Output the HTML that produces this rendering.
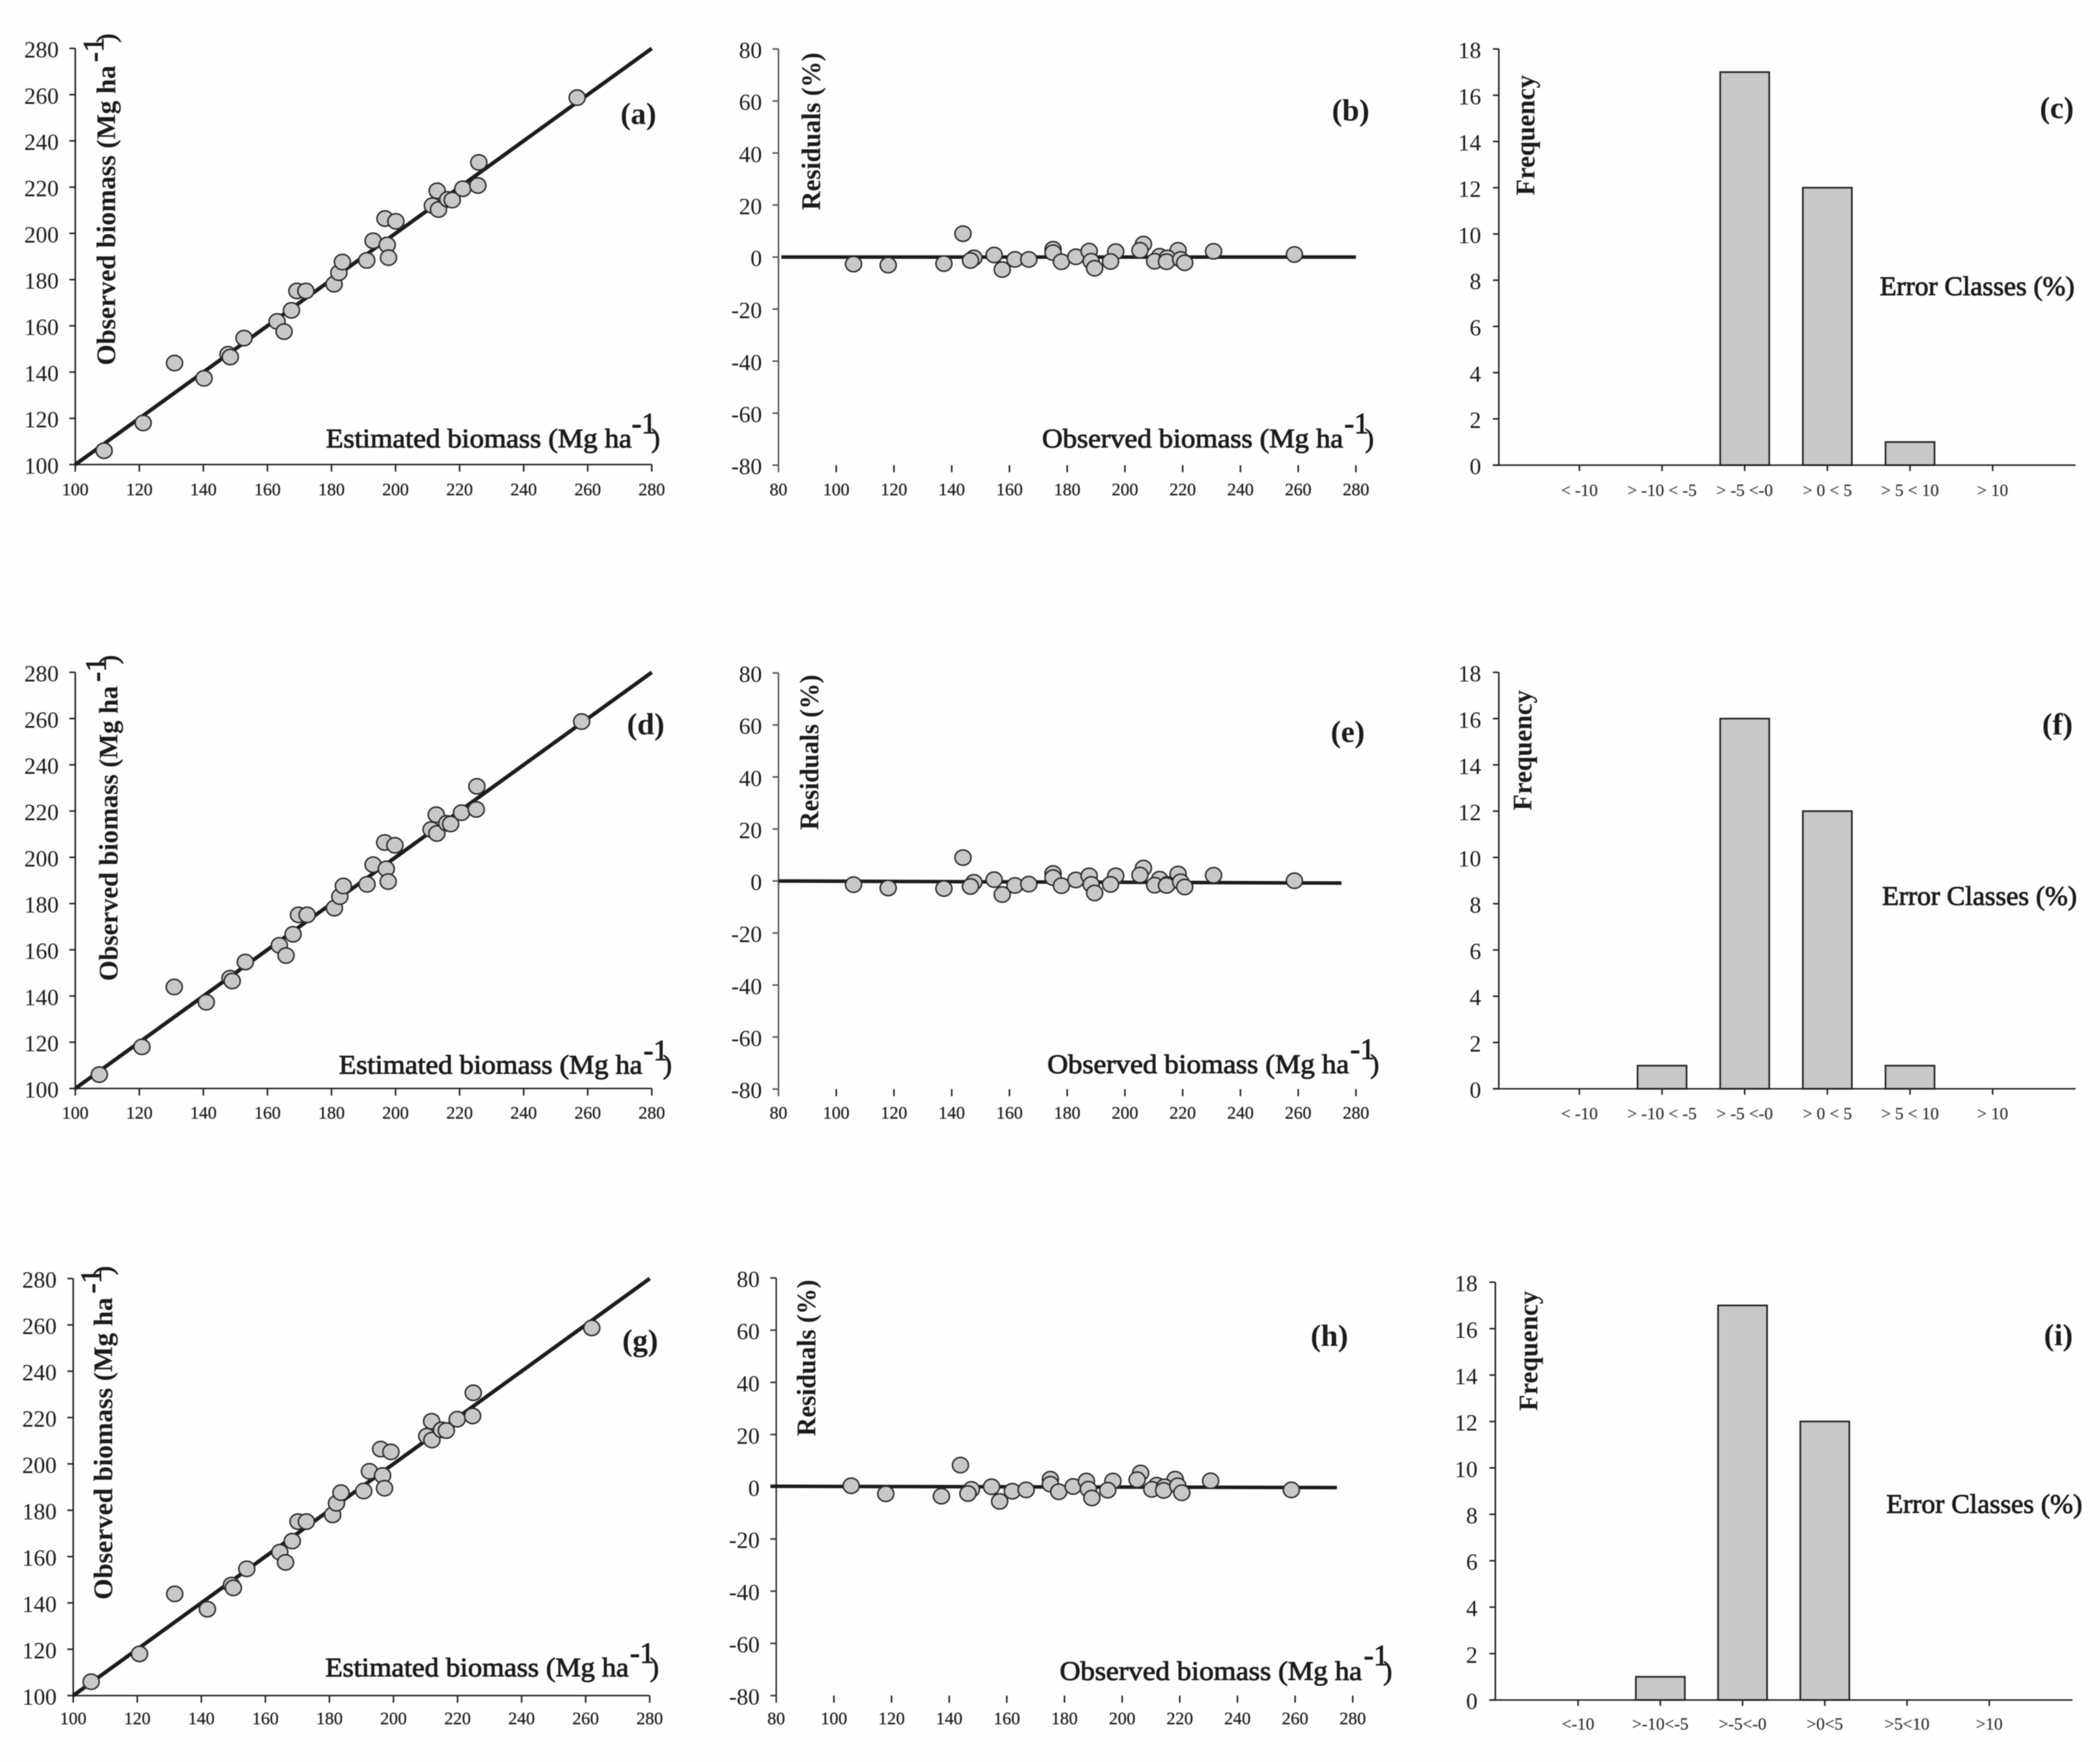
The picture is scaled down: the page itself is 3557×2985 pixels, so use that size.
<!DOCTYPE html>
<html lang="en">
<head>
<meta charset="utf-8">
<title>Observed vs estimated biomass, residuals and error classes</title>
<style>
html,body{margin:0;padding:0;background:#fefefe;}
#figure{display:block;width:3557px;height:2985px;background:#fefefe;filter:blur(0.8px);font-family:"Liberation Serif",serif;}
text{font-family:"Liberation Serif",serif;fill:#1c1c1c;}
.t{font-size:45px;stroke:#1c1c1c;stroke-width:1.2px;}
.yt{font-size:45px;font-weight:bold;}
.sup{font-size:50px;stroke:#1c1c1c;stroke-width:1.2px;}
.pl{font-size:52px;font-weight:bold;}
.tick-y{font-size:39px;text-anchor:end;}
.tick-x{font-size:30px;text-anchor:middle;fill:#222;stroke:#222;stroke-width:.4px;}
.tick-c{font-size:29px;text-anchor:middle;fill:#333;stroke:#333;stroke-width:.3px;}
</style>
</head>
<body>
<svg id="figure" xmlns="http://www.w3.org/2000/svg" width="3557" height="2985" viewBox="0 0 3557 2985">
  <g id="panel-a">
    <g id="marks-a"></g>
    <text class="t" x="552" y="758" textLength="518" lengthAdjust="spacingAndGlyphs">Estimated biomass (Mg ha</text>
    <text class="sup" x="1070" y="734">-1</text>
    <text class="t" x="1103" y="758">)</text>
    <text class="yt" transform="translate(195,619) rotate(-90)" textLength="508" lengthAdjust="spacingAndGlyphs">Observed biomass (Mg ha</text>
    <text class="sup" transform="translate(175,105) rotate(-90)">-1</text>
    <text class="t" transform="translate(195,72) rotate(-90)">)</text>
    <text class="pl" x="1051" y="210">(a)</text>
  </g>
  <g id="panel-b">
    <g id="marks-b"></g>
    <text class="t" x="1765" y="758" textLength="510" lengthAdjust="spacingAndGlyphs">Observed biomass (Mg ha</text>
    <text class="sup" x="2277" y="734">-1</text>
    <text class="t" x="2312" y="758">)</text>
    <text class="yt" transform="translate(1389,356) rotate(-90)" textLength="267" lengthAdjust="spacingAndGlyphs">Residuals (%)</text>
    <text class="pl" x="2256" y="204">(b)</text>
  </g>
  <g id="panel-c">
    <g id="marks-c"></g>
    <text class="t" x="3184" y="500" textLength="330" lengthAdjust="spacingAndGlyphs">Error Classes (%)</text>
    <text class="yt" transform="translate(2599,331) rotate(-90)" textLength="204" lengthAdjust="spacingAndGlyphs">Frequency</text>
    <text class="pl" x="3455" y="200">(c)</text>
  </g>
  <g id="panel-d">
    <g id="marks-d"></g>
    <text class="t" x="574" y="1819" textLength="514" lengthAdjust="spacingAndGlyphs">Estimated biomass (Mg ha</text>
    <text class="sup" x="1090" y="1796">-1</text>
    <text class="t" x="1123" y="1819">)</text>
    <text class="yt" transform="translate(199,1662) rotate(-90)" textLength="500" lengthAdjust="spacingAndGlyphs">Observed biomass (Mg ha</text>
    <text class="sup" transform="translate(179,1155) rotate(-90)">-1</text>
    <text class="t" transform="translate(199,1125) rotate(-90)">)</text>
    <text class="pl" x="1062" y="1244">(d)</text>
  </g>
  <g id="panel-e">
    <g id="marks-e"></g>
    <text class="t" x="1774" y="1818" textLength="511" lengthAdjust="spacingAndGlyphs">Observed biomass (Mg ha</text>
    <text class="sup" x="2287" y="1794">-1</text>
    <text class="t" x="2321" y="1818">)</text>
    <text class="yt" transform="translate(1386,1406) rotate(-90)" textLength="263" lengthAdjust="spacingAndGlyphs">Residuals (%)</text>
    <text class="pl" x="2254" y="1257">(e)</text>
  </g>
  <g id="panel-f">
    <g id="marks-f"></g>
    <text class="t" x="3188" y="1533" textLength="330" lengthAdjust="spacingAndGlyphs">Error Classes (%)</text>
    <text class="yt" transform="translate(2594,1373) rotate(-90)" textLength="204" lengthAdjust="spacingAndGlyphs">Frequency</text>
    <text class="pl" x="3459" y="1244">(f)</text>
  </g>
  <g id="panel-g">
    <g id="marks-g"></g>
    <text class="t" x="551" y="2840" textLength="514" lengthAdjust="spacingAndGlyphs">Estimated biomass (Mg ha</text>
    <text class="sup" x="1067" y="2817">-1</text>
    <text class="t" x="1101" y="2840">)</text>
    <text class="yt" transform="translate(190,2710) rotate(-90)" textLength="512" lengthAdjust="spacingAndGlyphs">Observed biomass (Mg ha</text>
    <text class="sup" transform="translate(171,2191) rotate(-90)">-1</text>
    <text class="t" transform="translate(190,2160) rotate(-90)">)</text>
    <text class="pl" x="1054" y="2288">(g)</text>
  </g>
  <g id="panel-h">
    <g id="marks-h"></g>
    <text class="t" x="1795" y="2846" textLength="512" lengthAdjust="spacingAndGlyphs">Observed biomass (Mg ha</text>
    <text class="sup" x="2310" y="2821">-1</text>
    <text class="t" x="2343" y="2846">)</text>
    <text class="yt" transform="translate(1381,2433) rotate(-90)" textLength="265" lengthAdjust="spacingAndGlyphs">Residuals (%)</text>
    <text class="pl" x="2220" y="2280">(h)</text>
  </g>
  <g id="panel-i">
    <g id="marks-i"></g>
    <text class="t" x="3195" y="2563" textLength="332" lengthAdjust="spacingAndGlyphs">Error Classes (%)</text>
    <text class="yt" transform="translate(2604,2390) rotate(-90)" textLength="203" lengthAdjust="spacingAndGlyphs">Frequency</text>
    <text class="pl" x="3462" y="2279">(i)</text>
  </g>
</svg>
<script>
// ---- Data ----
const observedBiomass = [106,118,143.9,137.3,147.7,146.5,154.7,161.9,157.5,166.7,175.1,175.1,178,183,187.6,188.3,196.8,195,189.5,206.4,205.2,212,210.3,218.4,214.7,214.4,219.3,220.7,230.7,258.7];
const estimatedA = [109,121.2,131,140.2,147.7,148.4,152.7,163,165.2,167.5,169.2,172,180.8,182.3,183.4,191,193,197.4,197.8,196.7,200.1,211.5,213.4,213,216.3,217.7,221,225.7,226,256.7];
const estimatedD = [107.5,120.8,130.9,140.9,148.3,149,153.1,163.7,165.8,168,169.7,172.4,180.9,182.6,183.7,191.1,193,197.1,197.7,196.6,199.8,211.1,212.9,212.7,216,217.2,220.6,225.2,225.4,258.1];
const estimatedG = [105.6,120.7,131.7,141.9,149.4,150,154.2,164.5,166.3,168.4,170.2,172.8,181,182.2,183.6,190.7,192.5,196.6,197.2,196,199.2,210.4,212,211.9,215,216.5,219.9,224.7,224.9,261.9];
const residualsB = [-2.7,-3.1,9,-2.5,-0.3,-1.3,0.8,-0.9,-4.8,-0.9,3,1.7,-1.8,0.1,2.3,-1.6,2.1,-1.7,-4.3,5,2.6,0.3,-1.6,2.6,-0.3,-1.8,-0.9,-2.2,2.2,1];
const residualsE = [-1.4,-2.7,9,-2.9,-0.5,-2.1,0.5,-1.7,-5.2,-1.2,2.9,1.3,-1.8,0.4,2,-1.3,2,-1.3,-4.6,5,2.3,0.7,-1.6,2.7,-1.3,-1.7,-0.3,-2.3,2.2,0.1];
const residualsH = [0.4,-2.7,8.3,-3.6,-1,-2.6,0,-1.7,-5.6,-1.2,2.9,1,-1.9,0.1,2.2,-0.9,2.2,-1.3,-4.3,5.3,2.7,0.6,-1,2.9,0,-1.4,0.4,-2.3,2.3,-1.2];
const frequencyC = [0,0,17,12,1,0];
const frequencyF = [0,1,16,12,1,0];
const frequencyI = [0,1,17,12,0,0];
const classLabelsSpaced = ["< -10","> -10 < -5","> -5 <-0","> 0 < 5","> 5 < 10","> 10"];
const classLabelsTight = ["<-10",">-10<-5",">-5<-0",">0<5",">5<10",">10"];
const scatterTicks = [100,120,140,160,180,200,220,240,260,280];
const residualXTicks = [80,100,120,140,160,180,200,220,240,260,280];
const residualYTicks = [-80,-60,-40,-20,0,20,40,60,80];
const frequencyTicks = [0,2,4,6,8,10,12,14,16,18];
const fitLineA = [100,280];
const fitLineD = [100,280];
const fitLineG = [100,280];
const zeroLineXB = [81,280];
const zeroLineYB = [0,0];
const zeroLineXE = [80,275];
const zeroLineYE = [0,-0.8];
const zeroLineXH = [78,274.5];
const zeroLineYH = [0.2,-0.3];

// ---- Drawing helpers ----
const SVGNS = "http://www.w3.org/2000/svg";
const AXIS = "#222";
function node(parent, tag, attrs, content) {
  const el = document.createElementNS(SVGNS, tag);
  for (const k in attrs) el.setAttribute(k, attrs[k]);
  if (content !== undefined) el.textContent = content;
  parent.appendChild(el);
  return el;
}
function linear(d0, d1, r0, r1) {
  return function (v) { return r0 + (v - d0) * (r1 - r0) / (d1 - d0); };
}
function yAxis(g, x, top, bottom, sy, ticks, color, labelOffset, baseOffset) {
  const axis = node(g, "line", {x1:x, y1:top, x2:x, y2:bottom, stroke:color, "stroke-width":2.6});
  
  
  ticks.forEach(function (t) {
    const mark = node(g, "line", {x1:x-10, y1:sy(t), x2:x, y2:sy(t), stroke:color, "stroke-width":2.6});
    
    
    const lab = node(g, "text", {"class":"tick-y", x:x-labelOffset, y:sy(t)+baseOffset}, String(t));
    
    
  });
}
function scatterPoints(g, xs, ys, sx, sy) {
  xs.forEach(function (v, i) {
    const dot = node(g, "ellipse", {cx:sx(v), cy:sy(ys[i]), rx:13.6, ry:13, fill:"#c8c8c8", stroke:"#2a2a2a", "stroke-width":2.5});
    
    
  });
}
function drawScatter(id, xs, ys, fit, box) {
  const g = document.getElementById("marks-" + id);
  const sx = linear(100, 280, box.left, box.right);
  const sy = linear(100, 280, box.bottom, box.top);
  yAxis(g, box.left, box.top, box.bottom, sy, scatterTicks, AXIS, 28, 15);
  const xAxis = node(g, "line", {x1:box.left, y1:box.bottom, x2:box.right, y2:box.bottom, stroke:AXIS, "stroke-width":2.6});
  
  
  scatterTicks.forEach(function (t) {
    const mark = node(g, "line", {x1:sx(t), y1:box.bottom, x2:sx(t), y2:box.bottom+12, stroke:AXIS, "stroke-width":2.6});
    
    
    const lab = node(g, "text", {"class":"tick-x", x:sx(t), y:box.labelY}, String(t));
    
    
  });
  const line = node(g, "line", {x1:sx(fit[0]), y1:sy(fit[0]), x2:sx(fit[1]), y2:sy(fit[1]), stroke:"#1c1c1c", "stroke-width":6.5});
  
  
  scatterPoints(g, xs, ys, sx, sy);
}
function drawResiduals(id, xs, ys, lineX, lineY, box) {
  const g = document.getElementById("marks-" + id);
  const sx = linear(80, 280, box.left, box.right);
  const sy = linear(-80, 80, box.bottom, box.top);
  yAxis(g, box.left, box.top, box.bottom + 12, sy, residualYTicks, box.axisColor, 28, 15);
  residualXTicks.slice(1).forEach(function (t) {
    const mark = node(g, "line", {x1:sx(t), y1:box.bottom, x2:sx(t), y2:box.bottom+12, stroke:AXIS, "stroke-width":2.6});
    
    
  });
  residualXTicks.forEach(function (t) {
    const lab = node(g, "text", {"class":"tick-x", x:sx(t), y:box.labelY}, String(t));
    
    
  });
  const line = node(g, "line", {x1:sx(lineX[0]), y1:sy(lineY[0]), x2:sx(lineX[1]), y2:sy(lineY[1]), stroke:"#1c1c1c", "stroke-width":6});
  
  
  scatterPoints(g, xs, ys, sx, sy);
}
function drawBars(id, values, labels, box) {
  const g = document.getElementById("marks-" + id);
  const sy = linear(0, 18, box.bottom, box.top);
  const sc = function (i) { return box.firstCenter + i * box.step; };
  yAxis(g, box.left, box.top, box.bottom, sy, frequencyTicks, AXIS, 30, 15);
  values.forEach(function (v, i) {
    if (v > 0) {
      const bar = node(g, "rect", {x:sc(i)-41.5, y:sy(v), width:83, height:box.bottom-sy(v), fill:"#c8c8c8", stroke:"#222", "stroke-width":2.8});
      
      
    }
  });
  const xAxis = node(g, "line", {x1:box.left-10, y1:box.bottom, x2:box.right, y2:box.bottom, stroke:AXIS, "stroke-width":2.6});
  
  
  labels.forEach(function (t, i) {
    const mark = node(g, "line", {x1:sc(i), y1:box.bottom, x2:sc(i), y2:box.bottom+10, stroke:AXIS, "stroke-width":2.6});
    
    
    const lab = node(g, "text", {"class":"tick-c", x:sc(i), y:box.labelY}, t);
    
    
  });
}

// ---- Panels ----
drawScatter("a", estimatedA, observedBiomass, fitLineA, {left:127.5, right:1104, top:82, bottom:787, labelY:839});
drawResiduals("b", observedBiomass, residualsB, zeroLineXB, zeroLineYB, {left:1318.6, right:2296.7, top:83, bottom:788, labelY:839, axisColor:"#555"});
drawBars("c", frequencyC, classLabelsSpaced, {left:2538.7, right:3515.7, top:83, bottom:788, firstCenter:2675.2, step:140, labelY:840});
drawScatter("d", estimatedD, observedBiomass, fitLineD, {left:127.5, right:1104, top:1139, bottom:1844, labelY:1895});
drawResiduals("e", observedBiomass, residualsE, zeroLineXE, zeroLineYE, {left:1318.6, right:2296.7, top:1140, bottom:1845, labelY:1895, axisColor:"#555"});
drawBars("f", frequencyF, classLabelsSpaced, {left:2538.7, right:3515.7, top:1139, bottom:1844.5, firstCenter:2675.2, step:140, labelY:1896});
drawScatter("g", estimatedG, observedBiomass, fitLineG, {left:124, right:1100.5, top:2166, bottom:2872.5, labelY:2921});
drawResiduals("h", observedBiomass, residualsH, zeroLineXH, zeroLineYH, {left:1314.8, right:2291.3, top:2165, bottom:2872.5, labelY:2921, axisColor:"#333"});
drawBars("i", frequencyI, classLabelsTight, {left:2532.8, right:3510.5, top:2172.2, bottom:2880, firstCenter:2673, step:139.3, labelY:2930});
</script>
</body>
</html>
